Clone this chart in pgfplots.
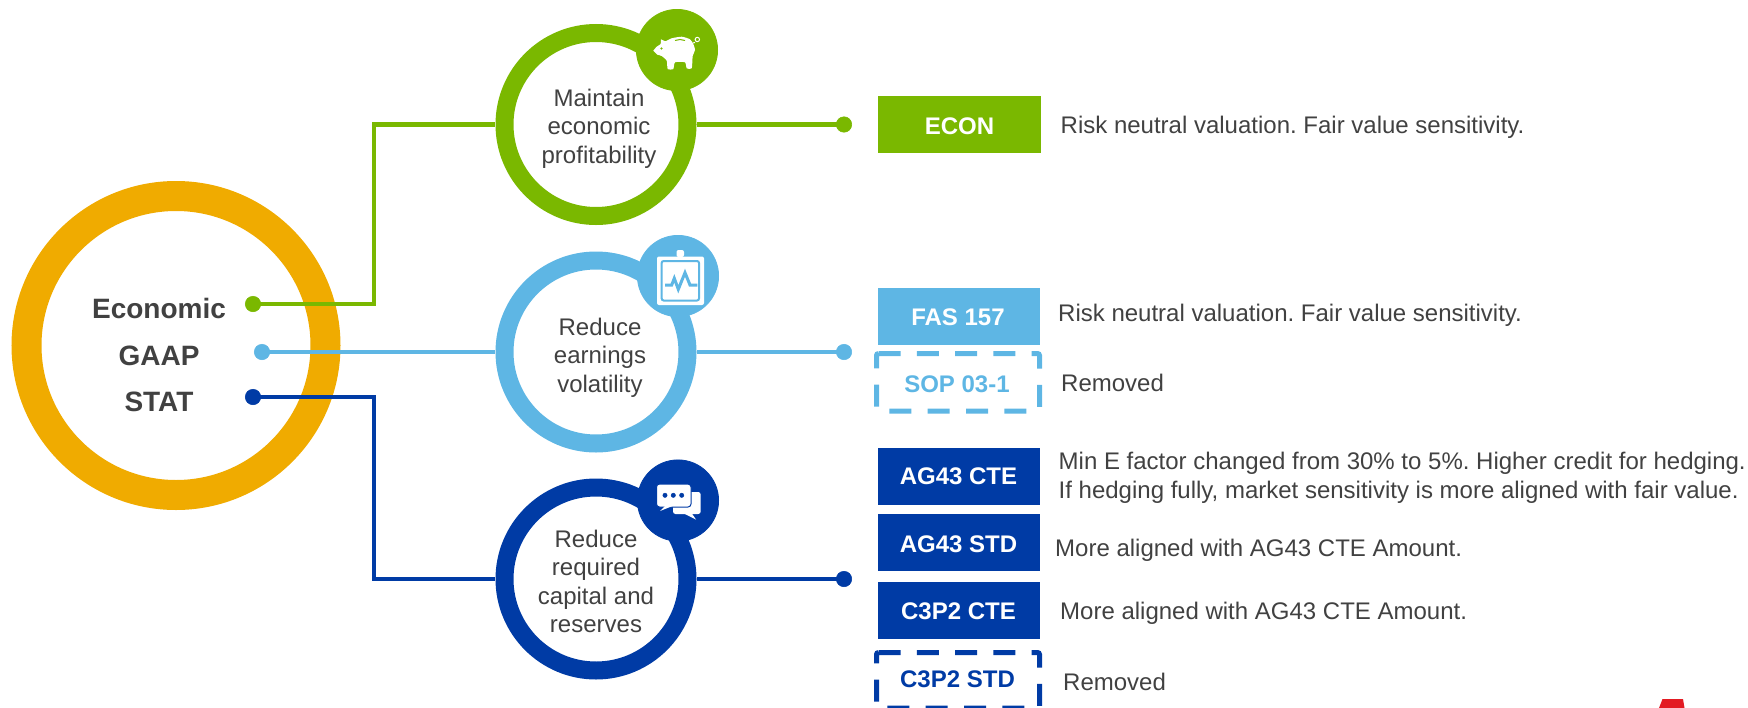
\documentclass[border=0pt]{standalone}
\usepackage{fontspec}
\setmainfont{Liberation Sans}
\usepackage{pgfplots}
\pgfplotsset{compat=1.18}
\definecolor{cGreen}{HTML}{7AB800}
\definecolor{cLight}{HTML}{5EB6E4}
\definecolor{cDark}{HTML}{003BA5}
\definecolor{cGold}{HTML}{F0AB00}
\definecolor{cText}{HTML}{414141}
\definecolor{cRed}{HTML}{E31B23}
\newcommand{\ringtxt}{\fontsize{24}{28}\selectfont\frenchspacing}
\newcommand{\boldtxt}{\fontsize{24}{28}\selectfont\bfseries}
\newcommand{\bigtxt}{\fontsize{28}{32}\selectfont\bfseries}
\tikzset{
  biglab/.style={anchor=base, text=cText, font=\bigtxt},
  ringlab/.style={anchor=base, text=cText, font=\ringtxt},
  boxlab/.style={anchor=base, font=\boldtxt},
  desc/.style={anchor=base west, inner sep=0pt, text=cText, font=\ringtxt},
}
\begin{document}
\begin{tikzpicture}
\useasboundingbox (0,0) rectangle (1748pt,707pt);
\begin{axis}[
  at={(0,0)}, anchor=south west,
  hide axis, scale only axis, width=1748pt, height=707pt,
  xmin=0, xmax=1748, ymin=0, ymax=707, y dir=reverse, clip=true,
  clip marker paths=true,
  ring/.style={only marks, mark=*},
  conn/.style={line width=4.5pt, line join=miter},
  box/.style={fill=#1, draw=none},
  dbox/.style={draw=#1, line width=5pt, dash pattern=on 22pt off 16.3pt, rounded corners=2pt},
]
% big ring
\addplot[ring, mark size=149.5pt, mark options={draw=cGold, line width=30pt, fill=white}] coordinates {(176,345.5)};
% objective rings
\addplot[ring, mark size=91.5pt, mark options={draw=cGreen, line width=18pt, fill=white}] coordinates {(596,124.5)};
\addplot[ring, mark size=91.5pt, mark options={draw=cLight, line width=18pt, fill=white}] coordinates {(596,352)};
\addplot[ring, mark size=91.5pt, mark options={draw=cDark, line width=18pt, fill=white}] coordinates {(596,579)};
% icon discs
\addplot[ring, mark size=40.6pt, mark options={draw=cGreen, line width=0.8pt, fill=cGreen}] coordinates {(677,50)};
\addplot[ring, mark size=40.6pt, mark options={draw=cLight, line width=0.8pt, fill=cLight}] coordinates {(678,276)};
\addplot[ring, mark size=40.6pt, mark options={draw=cDark, line width=0.8pt, fill=cDark}] coordinates {(678,500.5)};
% connectors
\addplot[conn, draw=cGreen] coordinates {(253,304) (374,304) (374,124.5) (495,124.5)};
\addplot[conn, draw=cGreen] coordinates {(697,124.5) (844,124.5)};
\addplot[conn, draw=cLight] coordinates {(262,352) (495,352)};
\addplot[conn, draw=cLight] coordinates {(697,352) (844,352)};
\addplot[conn, draw=cDark] coordinates {(253,397) (374,397) (374,579) (495,579)};
\addplot[conn, draw=cDark] coordinates {(697,579) (844,579)};
% connector dots
\addplot[ring, mark size=7.7pt, mark options={draw=cGreen, line width=0.6pt, fill=cGreen}] coordinates {(253,304) (844,124.5)};
\addplot[ring, mark size=7.7pt, mark options={draw=cLight, line width=0.6pt, fill=cLight}] coordinates {(262,352) (844,352)};
\addplot[ring, mark size=7.7pt, mark options={draw=cDark, line width=0.6pt, fill=cDark}] coordinates {(253,397) (844,579)};
% boxes
\addplot[box=cGreen] coordinates {(877.5,96) (1041,96) (1041,153) (877.5,153)} --cycle;
\addplot[box=cLight] coordinates {(877.5,288) (1040,288) (1040,345) (877.5,345)} --cycle;
\addplot[box=cDark] coordinates {(877.5,448) (1040,448) (1040,505) (877.5,505)} --cycle;
\addplot[box=cDark] coordinates {(877.5,514) (1040,514) (1040,571) (877.5,571)} --cycle;
\addplot[box=cDark] coordinates {(877.5,582) (1040,582) (1040,639) (877.5,639)} --cycle;
\addplot[dbox=cLight] coordinates {(876.5,353.5) (1039.5,353.5) (1039.5,411) (876.5,411)} --cycle;
\addplot[dbox=cDark] coordinates {(876.5,652.5) (1039.5,652.5) (1039.5,708) (876.5,708)} --cycle;
% red corner fragment
\addplot[box=cRed] coordinates {(1662.5,699) (1683,699) (1684.5,708) (1659,708)} --cycle;
% pig icon
\addplot[fill=white, draw=none, smooth, tension=0.35] coordinates {(653.3,50.7) (656.7,46.7) (660.7,44) (661,39.3) (665.3,41.3) (671.7,38.3) (681.7,36.7) (690,39.3) (693.3,44) (695,50) (692.7,56) (691.7,68.3) (686.7,68.3) (685,62.3) (675,62.3) (673.3,69) (667.7,69) (666.7,60.7) (661.7,56) (657.3,54.7)} --cycle;
\addplot[draw=cGreen, line width=1pt] coordinates {(675,40.5) (680,39.5) (685,40.5)};
\addplot[ring, mark size=0.9pt, mark options={draw=cGreen, line width=0.3pt, fill=cGreen}] coordinates {(661.5,48.5)};
\addplot[draw=white, line width=1pt] coordinates {(693,43) (695,42.5)};
\addplot[ring, mark size=2.2pt, mark options={draw=white, line width=1pt, fill=cGreen}] coordinates {(697.3,39.5)};
% clipboard icon
\addplot[fill=white, draw=none, rounded corners=2pt] coordinates {(676.5,250) (684,250) (684,257) (676.5,257)} --cycle;
\addplot[fill=white, draw=none, rounded corners=2pt] coordinates {(657,256.5) (704,256.5) (704,305) (657,305)} --cycle;
\addplot[draw=cLight, line width=2pt, rounded corners=2pt] coordinates {(661.7,261) (699,261) (699,300.5) (661.7,300.5)} --cycle;
\addplot[draw=cLight, line width=3pt] coordinates {(665,285) (671.7,285) (674.3,278.3) (678.3,289.3) (685,272.7) (690,285) (697.3,285)};
% chat icon
\addplot[fill=white, draw=none, rounded corners=2.5pt] coordinates {(673,492) (700.7,492) (700.7,514) (673,514)} --cycle;
\addplot[fill=white, draw=none] coordinates {(683,513) (696,519.5) (691.5,513)} --cycle;
\addplot[fill=white, draw=cDark, line width=1pt, rounded corners=3pt] coordinates {(656.5,484) (691,484) (691,507) (656.5,507)} --cycle;
\addplot[fill=white, draw=none] coordinates {(666,505) (660,511) (675,505)} --cycle;
\addplot[ring, mark size=2.2pt, mark options={draw=cDark, line width=0.4pt, fill=cDark}] coordinates {(665,495.3) (673.3,495.3) (681.7,495.3)};
% big ring labels
\node[biglab] at (axis cs:159,318.5) {Economic};
\node[biglab] at (axis cs:159,365) {GAAP};
\node[biglab] at (axis cs:159,411.5) {STAT};
% ring labels
\node[ringlab] at (axis cs:599,106) {Maintain};
\node[ringlab] at (axis cs:599,134.5) {economic};
\node[ringlab] at (axis cs:599,163) {profitability};
\node[ringlab] at (axis cs:600,335) {Reduce};
\node[ringlab] at (axis cs:600,363.5) {earnings};
\node[ringlab] at (axis cs:600,392) {volatility};
\node[ringlab] at (axis cs:596,547) {Reduce};
\node[ringlab] at (axis cs:596,575.5) {required};
\node[ringlab] at (axis cs:596,604) {capital and};
\node[ringlab] at (axis cs:596,632.5) {reserves};
% box labels
\node[boxlab, text=white] at (axis cs:959.5,134) {ECON};
\node[boxlab, text=white] at (axis cs:958,325) {FAS 157};
\node[boxlab, text=cLight] at (axis cs:957,392) {SOP 03-1};
\node[boxlab, text=white] at (axis cs:958.5,484) {AG43 CTE};
\node[boxlab, text=white] at (axis cs:958.5,552) {AG43 STD};
\node[boxlab, text=white] at (axis cs:958.5,619) {C3P2 CTE};
\node[boxlab, text=cDark] at (axis cs:957.5,687.5) {C3P2 STD};
% descriptions
\node[desc] at (axis cs:1060.5,133) {Risk neutral valuation. Fair value sensitivity.};
\node[desc] at (axis cs:1058,321) {Risk neutral valuation. Fair value sensitivity.};
\node[desc] at (axis cs:1061,391) {Removed};
\node[desc] at (axis cs:1058.5,469) {Min E factor changed from 30\% to 5\%. Higher credit for hedging.};
\node[desc] at (axis cs:1058.5,498) {If hedging fully, market sensitivity is more aligned with fair value.};
\node[desc] at (axis cs:1055,556) {More aligned with AG43 CTE Amount.};
\node[desc] at (axis cs:1060,619) {More aligned with AG43 CTE Amount.};
\node[desc] at (axis cs:1063,690) {Removed};
\end{axis}
\end{tikzpicture}
\end{document}
